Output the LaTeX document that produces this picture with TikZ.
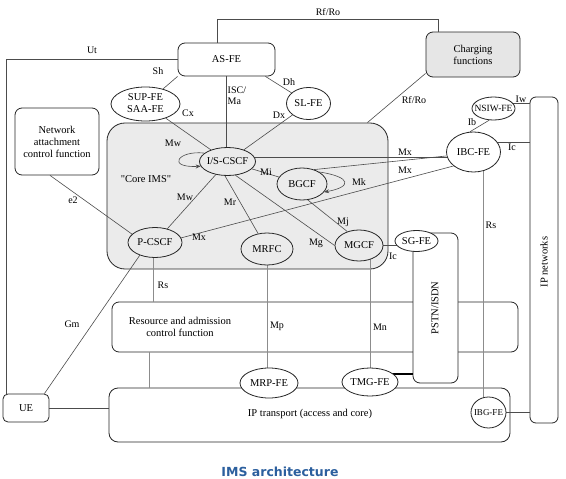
\documentclass[tikz,border=0pt]{standalone}
\usepackage{fontspec}
\setmainfont{Liberation Serif}
\newfontfamily\rawserif{Liberation Serif}
\newfontfamily\capfont{DejaVu Sans}
\usetikzlibrary{shapes.geometric,arrows.meta}
\definecolor{coregray}{HTML}{EBEBEB}
\definecolor{chggray}{HTML}{E6E6E6}
\definecolor{capblue}{HTML}{2B5F9E}
\pgfdeclarelayer{bg}
\pgfdeclarelayer{boxes}
\pgfdeclarelayer{lines}
\pgfsetlayers{bg,boxes,lines,main}
\newcommand{\ztext}[1]{\makebox[0pt]{#1}}
\begin{document}
\begin{tikzpicture}[x=1pt,y=-1pt,
  font=\fontsize{10.5}{12}\selectfont,
  box/.style={draw=black!85, line width=0.8pt, rounded corners=7pt, align=center, inner sep=0pt, fill=white},
  ell/.style={draw=black!85, line width=0.8pt, ellipse, fill=white, inner sep=0pt, align=center},
  cell/.style={ell, fill=coregray},
  conn/.style={draw=black!70, line width=0.6pt},
  gconn/.style={draw=black!45, line width=0.6pt},
  lbl/.style={inner sep=0pt, font=\fontsize{10}{11}\selectfont}]
\useasboundingbox (0,0) rectangle (566,479);
\begin{pgfonlayer}{bg}
\fill[white] (0,0) rectangle (566,479);
\end{pgfonlayer}

\begin{pgfonlayer}{boxes}
\node[box, minimum width=97pt, minimum height=33pt] (asfe) at (226.5,59.5) {AS-FE};
\node[box, fill=chggray, minimum width=94pt, minimum height=45pt] (charging) at (473,54.5) {Charging\\functions};
\node[box, minimum width=84pt, minimum height=67pt] (nacf) at (57,141.5) {Network\\attachment\\control function};
\node[box, fill=coregray, minimum width=281pt, minimum height=146pt, rounded corners=18pt] (core) at (247.5,196) {};
\node[box, minimum width=406pt, minimum height=50pt] (racf) at (315,327) {};
\node[box, minimum width=401pt, minimum height=54pt, rounded corners=9pt] (iptr) at (309.5,415) {};
\node[box, minimum width=46pt, minimum height=28pt, rounded corners=5pt] (ue) at (26,408) {UE};
\node[box, minimum width=28pt, minimum height=326pt, rounded corners=6pt] (ipnet) at (544,260) {};
\node[box, minimum width=45pt, minimum height=150pt, rounded corners=7pt] (pstn) at (435.5,308) {};
\end{pgfonlayer}

% ellipses
\node[ell, minimum width=69pt, minimum height=34pt] (supfe) at (145.5,104) {\ztext{\begin{tabular}{@{}c@{}}SUP-FE\\SAA-FE\end{tabular}}};
\node[ell, minimum width=44pt, minimum height=32pt] (slfe) at (308.5,103.5) {\ztext{SL-FE}};
\node[cell, minimum width=56pt, minimum height=28pt] (iscscf) at (227.5,161.5) {\ztext{I/S-CSCF}};
\node[cell, minimum width=50pt, minimum height=32pt] (bgcf) at (302,184) {\ztext{BGCF}};
\node[cell, minimum width=54pt, minimum height=30pt] (pcscf) at (155,242.5) {\ztext{P-CSCF}};
\node[cell, minimum width=52pt, minimum height=32pt] (mrfc) at (267,249) {\ztext{MRFC}};
\node[cell, minimum width=48pt, minimum height=31pt] (mgcf) at (359,245.5) {\ztext{MGCF}};
\node[ell, minimum width=43pt, minimum height=21pt] (sgfe) at (416.5,241) {\ztext{SG-FE}};
\node[ell, minimum width=43pt, minimum height=23pt] (nsiwfe) at (493.5,108.5) {\ztext{\fontsize{9.5}{10}\selectfont NSIW-FE}};
\node[ell, minimum width=54pt, minimum height=40pt] (ibcfe) at (473.5,152) {\ztext{IBC-FE}};
\node[ell, minimum width=58pt, minimum height=30pt] (mrpfe) at (269,383) {\ztext{MRP-FE}};
\node[ell, minimum width=56pt, minimum height=28pt] (tmgfe) at (370,382) {\ztext{TMG-FE}};
\node[ell, minimum width=35pt, minimum height=31pt] (ibgfe) at (488.5,412.5) {\ztext{\fontsize{9}{10}\selectfont IBG-FE}};

% box texts
\node[inner sep=0pt, align=center] (racftxt) at (180,327) {Resource and admission\\control function};
\node[inner sep=0pt] (iptrtxt) at (310,414) {IP transport (access and core)};
\node[inner sep=0pt, rotate=90] (ipnettxt) at (544,262) {IP networks};
\node[inner sep=0pt, rotate=90] (pstntxt) at (435,308) {PSTN/ISDN};
\node[inner sep=0pt] (coretxt) at (146,179) {\rawserif "Core IMS"};

% connectors
\begin{pgfonlayer}{lines}
\draw[conn] (asfe.west) -| ([xshift=4pt]ue.north west);
\draw[conn] ([xshift=-9.5pt]asfe.north) -- ++(0,-23) -| ([xshift=-35pt]charging.north);
\draw[conn] (supfe) -- (asfe.south west);
\draw[conn] (asfe.south) -- (asfe.south |- iscscf.center);
\draw[conn] ([xshift=-10pt]asfe.south east) -- (slfe);
\draw[conn] (slfe) -- (iscscf);
\draw[conn] (supfe) -- (iscscf);
\draw[conn] (iscscf) -- (bgcf);
\draw[conn] ([yshift=4.5pt]iscscf.center) -- ([yshift=4.5pt]iscscf.center -| ibcfe.center);
\draw[conn] ([yshift=-4pt]ibcfe.west) -- (bgcf.50);
\draw[conn] (pcscf.10) -- (ibcfe.215);
\draw[conn] (iscscf) -- (pcscf);
\draw[conn] (iscscf.260) -- (mrfc);
\draw[conn] (iscscf.300) -- (mgcf.west);
\draw[conn] (bgcf.290) -- (mgcf.130);
\draw[conn] (mgcf.center) -- (mgcf.center -| sgfe.center);
\draw[gconn] ([xshift=-2pt]pcscf.center) -- ([xshift=-2pt]pcscf.center |- racf.north);
\draw[conn] ([xshift=-7pt]nacf.south) -- (pcscf.160);
\draw[conn] ([xshift=-5pt]ue.north east) -- (pcscf.220);
\draw[gconn] ([xshift=-166pt]racf.south) -- ([xshift=-166pt]racf.south |- iptr.north);
\draw[gconn] (mrfc.center) -- (mrfc.center |- mrpfe.center);
\draw[gconn] (tmgfe.center) -- (tmgfe.center |- mgcf.center);
\draw[black, line width=1.6pt] ([yshift=8pt]tmgfe.center) -- ([yshift=8pt]tmgfe.center -| pstn.west);
\draw[conn] (ue.east) -- (ue.east -| iptr.west);
\draw[conn] ([yshift=4pt]charging.south west) -- ([xshift=-21pt]core.north east);
\draw[conn] ([yshift=5pt]nsiwfe.center) -- ([yshift=5pt]nsiwfe.center -| ipnet.west);
\draw[conn] (nsiwfe.250) -- (ibcfe.100);
\draw[conn] ([yshift=10pt]ibcfe.center) -- ([yshift=10pt]ibcfe.center -| ipnet.west);
\draw[gconn] ([xshift=9.5pt]ibcfe.center) -- ([xshift=9.5pt]ibcfe.center |- ibgfe.center);
\draw[conn] (ibgfe.center) -- (ibgfe.center -| ipnet.west);
\end{pgfonlayer}
% self loops
\draw[conn, -{Stealth[length=5pt,width=4pt]}] (iscscf.160) .. controls (178,150) and (166,168) .. (iscscf.190);
\draw[conn, -{Stealth[length=5pt,width=4pt]}] (bgcf.35) .. controls (352,177) and (352,187) .. (bgcf.-20);

% labels
\node[lbl] (lUt) at (92,50) {Ut};
\node[lbl] (lRf1) at (328,12) {Rf/Ro};
\node[lbl] (lSh) at (158,71) {Sh};
\node[lbl, anchor=north west, align=left] (lISC) at (227.5,87) {ISC/\\Ma};
\node[lbl] (lDh) at (289,82) {Dh};
\node[lbl] (lCx) at (188,113) {Cx};
\node[lbl] (lDx) at (279,115) {Dx};
\node[lbl] (lRf2) at (414,100) {Rf/Ro};
\node[lbl] (lIw) at (521,99) {Iw};
\node[lbl] (lIb) at (472,122) {Ib};
\node[lbl] (lIc1) at (512,147) {Ic};
\node[lbl] (lMx1) at (405,152) {Mx};
\node[lbl] (lMx2) at (405,170) {Mx};
\node[lbl] (lMw1) at (173,143) {Mw};
\node[lbl] (lMi) at (266,172) {Mi};
\node[lbl] (lMk) at (359,182) {Mk};
\node[lbl] (le2) at (73,200) {e2};
\node[lbl] (lMw2) at (185,197) {Mw};
\node[lbl] (lMr) at (230,202) {Mr};
\node[lbl] (lMj) at (343,222) {Mj};
\node[lbl] (lMg) at (316,243) {Mg};
\node[lbl] (lMx3) at (199,237) {Mx};
\node[lbl] (lIc2) at (393,256) {Ic};
\node[lbl] (lRs1) at (163,285) {Rs};
\node[lbl] (lRs2) at (491,225) {Rs};
\node[lbl] (lGm) at (72,324) {Gm};
\node[lbl] (lMp) at (277,326) {Mp};
\node[lbl] (lMn) at (380,327) {Mn};

\node[inner sep=0pt, text=capblue, font=\capfont\bfseries\fontsize{12.5}{14}\selectfont] (cap) at (280,472) {IMS architecture};
\end{tikzpicture}
\end{document}
